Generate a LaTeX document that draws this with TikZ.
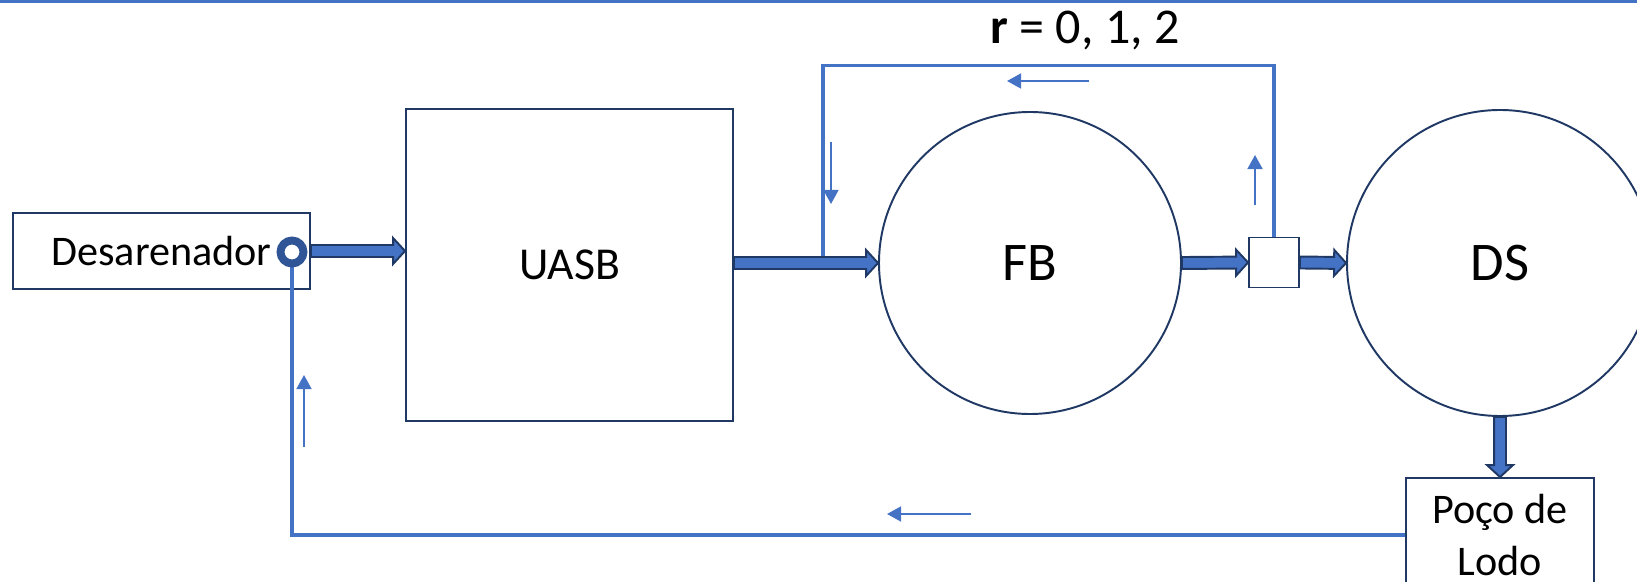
\documentclass[tikz,border=0pt]{standalone}
\usepackage{fontspec}
\setmainfont{Carlito}
\usepackage{tikz}
\usetikzlibrary{calc}
\usetikzlibrary{arrows.meta}
\usetikzlibrary{positioning}

\definecolor{navy}{RGB}{32,56,100}
\definecolor{flowblue}{RGB}{68,114,196}
\definecolor{ringblue}{RGB}{47,85,151}

\begin{document}
\begin{tikzpicture}
		\tikzset{unit/.style = {shape=rectangle,draw=navy,line width=1.1pt,fill=white,inner sep=0pt}}
		\tikzset{tank/.style = {shape=circle,draw=navy,line width=1.1pt,fill=white,inner sep=0pt}}
		\tikzset{bigtext/.style = {font=\fontsize{26}{31}\selectfont}}
		\tikzset{tanktext/.style = {font=\fontsize{31}{37}\selectfont}}
		\tikzset{smalltext/.style = {font=\fontsize{24}{29.5}\selectfont}}
		\tikzset{recyc/.style = {draw=flowblue,line width=2pt}}
		\tikzset{hint/.style = {draw=flowblue,line width=1.1pt,-{Triangle[length=8pt,width=8.5pt]}}}
		\tikzset{flow/.style = {draw=navy,fill=flowblue,line width=1.1pt,
			to path={let \p1=(\tikztostart), \p2=(\tikztotarget), \p3=($(\p2)!6.8pt!(\p1)$) in
			($(\p1)!3.4pt!90:(\p2)$) -- ($(\p3)!3.4pt!90:(\p2)$) -- ($(\p3)!7.4pt!90:(\p2)$) -- (\p2)
			-- ($(\p3)!7.4pt!-90:(\p2)$) -- ($(\p3)!3.4pt!-90:(\p2)$) -- ($(\p1)!3.4pt!-90:(\p2)$) -- cycle}}}
		\useasboundingbox (0,0) rectangle (32.74,-11.64);
		\clip (0,0) rectangle (32.74,-11.64);
		\draw[flowblue,line width=1.5pt] (0,-0.03) -- (32.74,-0.03);
		% units
		\node[unit,smalltext,minimum width=5.94cm,minimum height=1.52cm] (des) at (3.23,-5.02) {Desarenador};
		\node[unit,bigtext,minimum width=6.54cm,minimum height=6.24cm] (uasb) at (11.39,-5.30) {UASB};
		\node[tank,tanktext,minimum size=6.04cm] (fb) at (20.6,-5.26) {FB};
		\node[unit,minimum size=1.0cm] (tap) at (25.48,-5.25) {};
		\node[tank,tanktext,minimum size=6.12cm] (ds) at (30.0,-5.26) {DS};
		\node[unit,smalltext,minimum width=3.76cm,minimum height=2.28cm,align=center] (pit) at (30.0,-10.70) {Poço de\\Lodo};
		\node[font=\fontsize{28.5}{34}\selectfont] (rlabel) at (21.7,-0.60) {\textbf{r} = 0, 1, 2};
		\coordinate (join) at (16.46,-5.26);
		% recycle lines
		\draw[recyc] (tap.north) -- ++(0,3.42) -| (join);
		\draw[recyc] (pit.west) -| (5.84,-5.04);
		% main flow
		\draw[flow] (des.east) to (uasb.west |- des.east);
		\draw[flow] (uasb.east |- fb.west) to (fb.west);
		\draw[flow] (fb.east) to (tap.west);
		\draw[flow] (tap.east) to (ds.west);
		\draw[flow] (ds.south) to (pit.north);
		\node[circle,draw=ringblue,line width=4.5pt,fill=white,inner sep=0pt,minimum size=0.46cm] (port) at (5.84,-5.04) {};
		% direction marks
		\draw[hint] (21.78,-1.62) -- (20.14,-1.62);
		\draw[hint] (16.62,-2.84) -- (16.62,-4.08);
		\draw[hint] (25.10,-4.10) -- (25.10,-3.10);
		\draw[hint] (19.42,-10.28) -- (17.74,-10.28);
		\draw[hint] (6.08,-8.94) -- (6.08,-7.50);
\end{tikzpicture}
\end{document}
